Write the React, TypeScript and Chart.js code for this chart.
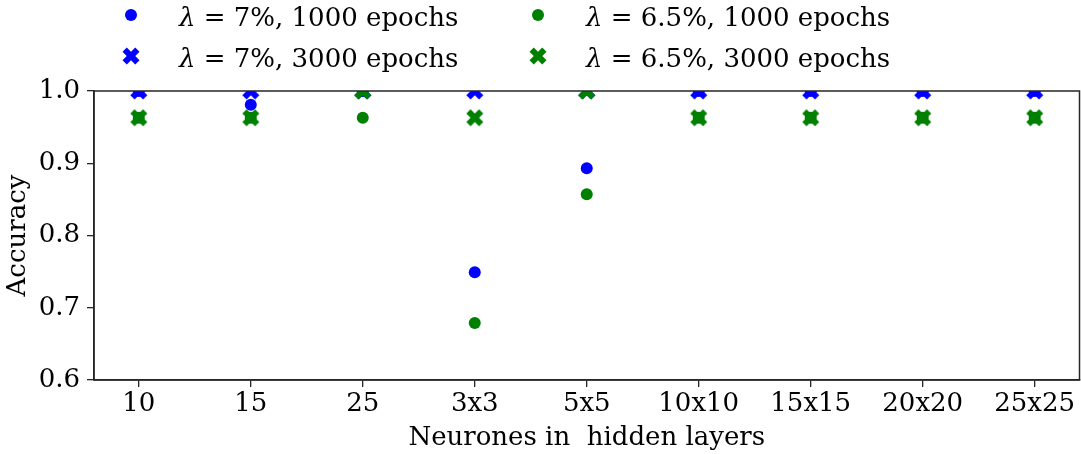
import React, { useEffect, useRef } from 'react';
import { Chart, registerables } from 'chart.js';

Chart.register(...registerables);

// ---- data ----
const categories = ['10', '15', '25', '3x3', '5x5', '10x10', '15x15', '20x20', '25x25'];
const acc7_1000 = [1.0, 0.981, 1.0, 0.749, 0.893, 1.0, 1.0, 1.0, 1.0];
const acc7_3000 = [1.0, 1.0, 1.0, 1.0, 1.0, 1.0, 1.0, 1.0, 1.0];
const acc65_1000 = [0.963, 0.963, 0.963, 0.679, 0.857, 0.963, 0.963, 0.963, 0.963];
const acc65_3000 = [0.963, 0.963, 1.0, 0.963, 1.0, 0.963, 0.963, 0.963, 0.963];
const yTickValues = [0.6, 0.7, 0.8, 0.9, 1.0];
const legendTexts = ['7%, 1000 epochs', '7%, 3000 epochs', '6.5%, 1000 epochs', '6.5%, 3000 epochs'];

const BLUE = '#0000ff';
const GREEN = '#008000';
const AXIS = '#262626';
const FONT = '"DejaVu Serif", serif';
const FS = 26;

function makeX(color: string, size = 17): HTMLCanvasElement {
  const c = document.createElement('canvas');
  const dim = 20;
  c.width = dim;
  c.height = dim;
  const ctx = c.getContext('2d')!;
  const pts = [[-1, -2], [0, -1], [1, -2], [2, -1], [1, 0], [2, 1], [1, 2], [0, 1], [-1, 2], [-2, 1], [-1, 0], [-2, -1]];
  ctx.fillStyle = color;
  ctx.beginPath();
  pts.forEach(([px, py], i) => {
    const x = dim / 2 + (px / 4) * size;
    const y = dim / 2 + (py / 4) * size;
    if (i) ctx.lineTo(x, y);
    else ctx.moveTo(x, y);
  });
  ctx.closePath();
  ctx.fill();
  return c;
}

const toPts = (arr: number[]) => arr.map((v, i) => ({ x: i, y: v }));

export default function App() {
  const ref = useRef<HTMLCanvasElement>(null);

  useEffect(() => {
    const xBlue = makeX(BLUE);
    const xGreen = makeX(GREEN);

    const legendItems = [
      { col: 0, row: 0, color: BLUE, marker: 'circle', text: legendTexts[0] },
      { col: 0, row: 1, color: BLUE, marker: xBlue, text: legendTexts[1] },
      { col: 1, row: 0, color: GREEN, marker: 'circle', text: legendTexts[2] },
      { col: 1, row: 1, color: GREEN, marker: xGreen, text: legendTexts[3] },
    ];

    const framePlugin = {
      id: 'frameLegend',
      afterDraw(chart: any) {
        const { ctx, chartArea } = chart;
        ctx.save();
        ctx.strokeStyle = AXIS;
        ctx.lineWidth = 1.5;
        ctx.strokeRect(chartArea.left, chartArea.top, chartArea.right - chartArea.left, chartArea.bottom - chartArea.top);
        // legend
        const markerX = [131, 538];
        const textX = [179, 586];
        const baseY = [26, 67];
        legendItems.forEach((it) => {
          const mx = markerX[it.col];
          const my = baseY[it.row] - 11;
          if (it.marker === 'circle') {
            ctx.fillStyle = it.color;
            ctx.beginPath();
            ctx.arc(mx, my, 6, 0, Math.PI * 2);
            ctx.fill();
          } else {
            const img = it.marker as HTMLCanvasElement;
            ctx.drawImage(img, mx - img.width / 2, my - img.height / 2);
          }
          ctx.fillStyle = '#000';
          ctx.textBaseline = 'alphabetic';
          ctx.textAlign = 'left';
          let x = textX[it.col];
          ctx.font = `italic ${FS}px ${FONT}`;
          ctx.fillText('λ', x, baseY[it.row]);
          x += ctx.measureText('λ').width;
          ctx.font = `${FS}px ${FONT}`;
          ctx.fillText(' = ' + it.text.replace(', ', ',\u00a0'), x, baseY[it.row]);
        });
        ctx.restore();
      },
    };

    const chart = new Chart(ref.current!, {
      type: 'scatter',
      data: {
        datasets: [
          { label: 'λ = ' + legendTexts[0], data: toPts(acc7_1000), pointStyle: 'circle', pointRadius: 6, backgroundColor: BLUE, borderWidth: 0, order: 4, clip: 0 } as any,
          { label: 'λ = ' + legendTexts[1], data: toPts(acc7_3000), pointStyle: xBlue, pointRadius: 9, backgroundColor: BLUE, borderWidth: 0, order: 3, clip: 0 } as any,
          { label: 'λ = ' + legendTexts[2], data: toPts(acc65_1000), pointStyle: 'circle', pointRadius: 6, backgroundColor: GREEN, borderWidth: 0, order: 2, clip: 0 } as any,
          { label: 'λ = ' + legendTexts[3], data: toPts(acc65_3000), pointStyle: xGreen, pointRadius: 9, backgroundColor: GREEN, borderWidth: 0, order: 1, clip: 0 } as any,
        ],
      },
      options: {
        responsive: false,
        animation: false,
        events: [],
        layout: { autoPadding: false, padding: { left: 0, right: 1.5, top: 91, bottom: 0 } },
        plugins: { legend: { display: false }, tooltip: { enabled: false } },
        scales: {
          x: {
            type: 'linear',
            min: -0.4,
            max: 8.4,
            afterBuildTicks: (s: any) => {
              s.ticks = categories.map((_, i) => ({ value: i }));
            },
            afterFit: (s: any) => {
              s.height = 74;
              s.paddingLeft = 0;
              s.paddingRight = 0;
            },
            ticks: {
              autoSkip: false,
              maxRotation: 0,
              padding: 2,
              color: '#000',
              font: { family: FONT, size: FS },
              callback: (v: any) => categories[v] ?? '',
            },
            grid: { drawOnChartArea: false, drawTicks: true, tickLength: 7, color: AXIS, lineWidth: 1.3 },
            border: { display: true, color: AXIS, width: 1.5 },
            title: {
              display: true,
              text: 'Neurones in  hidden layers',
              color: '#000',
              font: { family: FONT, size: FS },
              padding: { top: 0, bottom: 0 },
            },
          },
          y: {
            min: 0.6,
            max: 1.0,
            afterBuildTicks: (s: any) => {
              s.ticks = yTickValues.map((v) => ({ value: v }));
            },
            afterFit: (s: any) => {
              s.width = 94;
              s.paddingTop = 0;
              s.paddingBottom = 0;
            },
            ticks: {
              padding: 7,
              color: '#000',
              font: { family: FONT, size: FS },
              callback: (v: any) => Number(v).toFixed(1),
            },
            grid: { drawOnChartArea: false, drawTicks: true, tickLength: 7, color: AXIS, lineWidth: 1.3 },
            border: { display: true, color: AXIS, width: 1.5 },
            title: {
              display: true,
              text: 'Accuracy',
              color: '#000',
              font: { family: FONT, size: FS },
              padding: { top: 3, bottom: 0 },
            },
          },
        },
      },
      plugins: [framePlugin],
    });
    return () => chart.destroy();
  }, []);

  return (
    <div style={{ position: 'fixed', left: 0, top: 0, width: 1081, height: 454, background: '#fff' }}>
      <canvas ref={ref} width={1081} height={454} style={{ display: 'block' }} />
    </div>
  );
}
